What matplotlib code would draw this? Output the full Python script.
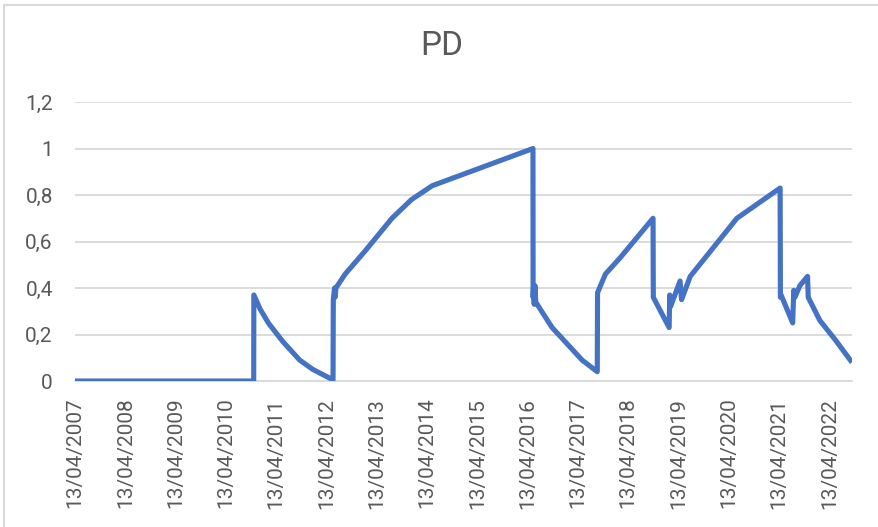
import matplotlib
matplotlib.use('Agg')
import matplotlib.pyplot as plt
import matplotlib.dates as mdates
from matplotlib.patches import Rectangle
import pandas as pd

# values
dates = ['2007-04-13', '2010-11-01', '2010-11-02', '2010-12-17', '2011-02-15', '2011-05-31',
         '2011-10-01', '2012-01-04', '2012-05-30', '2012-06-01', '2012-06-10', '2012-06-14',
         '2012-06-20', '2012-08-26', '2013-01-19', '2013-08-01', '2013-12-20', '2014-05-20',
         '2016-05-21', '2016-05-22', '2016-05-25', '2016-05-30', '2016-06-05', '2016-06-10',
         '2016-07-12', '2016-10-07', '2017-05-13', '2017-08-31', '2017-09-02', '2017-10-29',
         '2018-02-13', '2018-10-10', '2018-10-12', '2019-02-04', '2019-02-08', '2019-02-14',
         '2019-04-24', '2019-05-05', '2019-07-07', '2020-06-10', '2021-04-20', '2021-04-22',
         '2021-04-27', '2021-07-20', '2021-07-28', '2021-08-05', '2021-09-10', '2021-11-05',
         '2021-11-10', '2022-02-03', '2022-05-22', '2022-09-24']
pd_values = [0.0, 0.0, 0.37, 0.31, 0.25, 0.17,
             0.09, 0.05, 0.005, 0.35, 0.40, 0.36,
             0.40, 0.46, 0.56, 0.70, 0.78, 0.84,
             1.0, 0.36, 0.40, 0.33, 0.41, 0.34,
             0.31, 0.23, 0.09, 0.04, 0.38, 0.46,
             0.53, 0.70, 0.36, 0.23, 0.37, 0.32,
             0.43, 0.35, 0.45, 0.70, 0.83, 0.36,
             0.37, 0.25, 0.39, 0.36, 0.41, 0.45,
             0.36, 0.26, 0.18, 0.08]
tick_dates = ['2007-04-13', '2008-04-13', '2009-04-13', '2010-04-13', '2011-04-13',
              '2012-04-13', '2013-04-13', '2014-04-13', '2015-04-13', '2016-04-13',
              '2017-04-13', '2018-04-13', '2019-04-13', '2020-04-13', '2021-04-13',
              '2022-04-13']
y_ticks = [0, 0.2, 0.4, 0.6, 0.8, 1.0, 1.2]
y_labels = ['0', '0,2', '0,4', '0,6', '0,8', '1', '1,2']

plt.rcParams['font.family'] = ['Roboto', 'DejaVu Sans']
text_col = '#595959'
grid_col = '#D9D9D9'

x = pd.to_datetime(dates)
xt = pd.to_datetime(tick_dates)

fig = plt.figure(figsize=(8.79, 5.27), dpi=100)
ax = fig.add_axes([0.0853, 0.277, 0.884, 0.5294])

ax.plot(x, pd_values, color='#4472C4', lw=3.7, solid_joinstyle='round', solid_capstyle='butt',
        zorder=3)

ax.set_ylim(0, 1.2)
ax.set_yticks(y_ticks)
ax.set_yticklabels(y_labels)
ax.set_xlim(x[0], x[-1])
ax.set_xticks(xt)
ax.set_xticklabels([d.strftime('%d/%m/%Y') for d in xt], rotation=90)

ax.grid(axis='y', color=grid_col, lw=1.3)
ax.set_axisbelow(True)
for s in ['top', 'right', 'left']:
    ax.spines[s].set_visible(False)
ax.spines['bottom'].set_color(grid_col)
ax.spines['bottom'].set_linewidth(1.3)
ax.tick_params(axis='y', length=0, pad=16, labelsize=15, labelcolor=text_col)
ax.tick_params(axis='x', length=0, pad=12, labelsize=15, labelcolor=text_col)

fig.text(0.503, 0.913, 'PD', ha='center', va='center', fontsize=24, color=text_col)

# chart border
fig.patches.append(Rectangle((0.005, -0.1), 1.1, 1.0905, transform=fig.transFigure,
                             fill=False, ec=grid_col, lw=1.5))

fig.savefig('out.png', dpi=100)
